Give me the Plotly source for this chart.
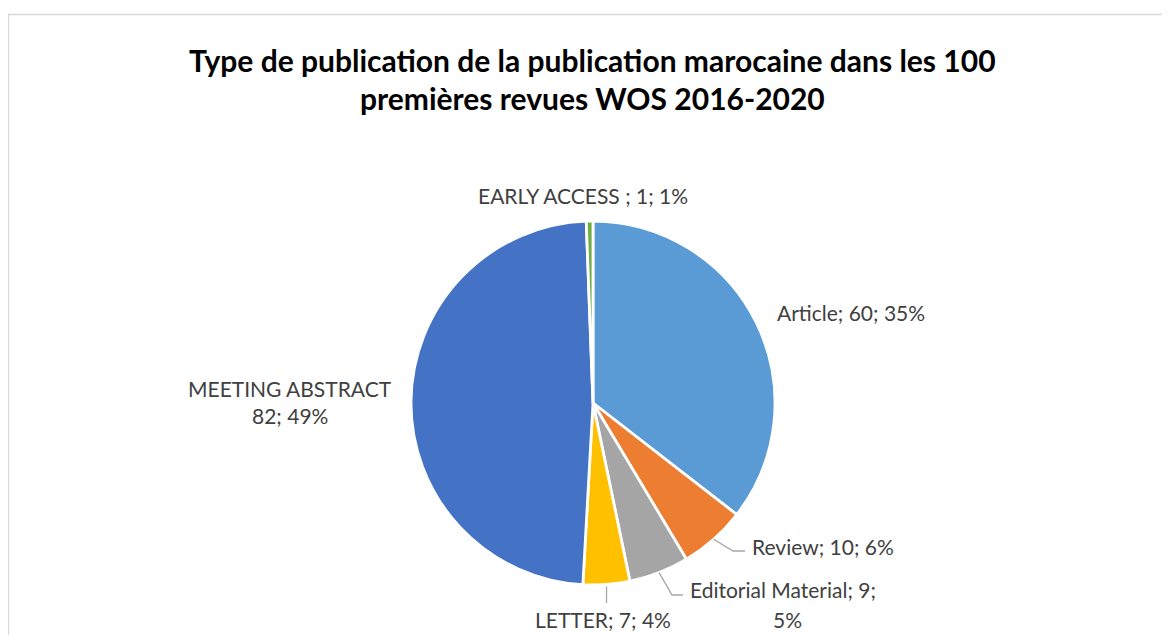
import math
import plotly.graph_objects as go

# Page body adds an 8px margin; the figure is sized to fill the rest of the window.
OFF = 8
W, H = 1170 - OFF, 635 - OFF

# ---- data ----
categories = ["Article", "Review", "Editorial Material", "LETTER", "MEETING ABSTRACT", "EARLY ACCESS "]
values = [60, 10, 9, 7, 82, 1]
pct_labels = ["35%", "6%", "5%", "4%", "49%", "1%"]
colors = ["#5B9BD5", "#ED7D31", "#A5A5A5", "#FFC000", "#4472C4", "#70AD47"]

title_lines = ["Type de publication de la publication marocaine dans les 100",
               "premières revues WOS 2016-2020"]

# ---- layout geometry (window pixels) ----
cx, cy, R = 593, 403, 182


def px(x):
    return (x - OFF) / W


def py(y):
    return 1 - (y - OFF) / H


fig = go.Figure()
fig.add_trace(go.Pie(
    labels=categories,
    values=values,
    sort=False,
    direction="clockwise",
    rotation=0,
    textinfo="none",
    hoverinfo="label+value+percent",
    marker=dict(colors=colors, line=dict(color="white", width=2.8)),
    domain=dict(x=[px(cx - R), px(cx + R)], y=[py(cy + R), py(cy - R)]),
    showlegend=False,
))

# mid-angles (clockwise from top) computed from the data
total = sum(values)
mids = []
acc = 0
for v in values:
    mids.append((acc + v / 2) / total * 360)
    acc += v


def edge_point(angle_deg, r=R):
    a = math.radians(angle_deg)
    return cx + r * math.sin(a), cy - r * math.cos(a)


label_font = dict(family="Lato, Calibri, sans-serif", size=21, color="#404040")
title_font = dict(family="Lato, Calibri, sans-serif", size=30, color="#000000")
annotations = []

# title
annotations.append(dict(text="<b>" + title_lines[0] + "</b>", x=px(593), y=py(60), xref="paper", yref="paper",
                        showarrow=False, xanchor="center", yanchor="middle", font=title_font))
annotations.append(dict(text="<b>" + title_lines[1] + "</b>", x=px(593), y=py(98), xref="paper", yref="paper",
                        showarrow=False, xanchor="center", yanchor="middle", font=title_font))

# data labels: text built from data arrays
txt = [f"{c}; {v}; {p}" for c, v, p in zip(categories, values, pct_labels)]

# Article
annotations.append(dict(text=txt[0], x=px(775), y=py(312), xanchor="left", yanchor="middle"))
# Review
annotations.append(dict(text=txt[1], x=px(750), y=py(546), xanchor="left", yanchor="middle"))
# Editorial Material (wrapped)
annotations.append(dict(text=f"{categories[2]}; {values[2]};", x=px(688), y=py(589), xanchor="left", yanchor="middle"))
annotations.append(dict(text=pct_labels[2], x=px(787), y=py(619), xanchor="center", yanchor="middle"))
# LETTER
annotations.append(dict(text=txt[3], x=px(603), y=py(619), xanchor="center", yanchor="middle"))
# MEETING ABSTRACT (two lines)
annotations.append(dict(text=categories[4], x=px(290), y=py(388), xanchor="center", yanchor="middle"))
annotations.append(dict(text=f"{values[4]}; {pct_labels[4]}", x=px(290), y=py(415), xanchor="center", yanchor="middle"))
# EARLY ACCESS
annotations.append(dict(text=txt[5], x=px(583), y=py(196), xanchor="center", yanchor="middle"))

for a in annotations[2:]:
    a.update(xref="paper", yref="paper", showarrow=False, font=label_font)

# leader lines
shapes = []
line_style = dict(color="#A6A6A6", width=1.3)
# Review
x0, y0 = edge_point(mids[1])
shapes.append(dict(type="path", xref="paper", yref="paper",
                   path=f"M {px(x0)},{py(y0)} L {px(733)},{py(551)} L {px(745)},{py(551)}", line=line_style))
# Editorial
x0, y0 = edge_point(mids[2])
shapes.append(dict(type="path", xref="paper", yref="paper",
                   path=f"M {px(x0)},{py(y0)} L {px(672)},{py(595)} L {px(683)},{py(595)}", line=line_style))
# Letter
x0, y0 = edge_point(mids[3])
shapes.append(dict(type="line", xref="paper", yref="paper",
                   x0=px(x0), y0=py(y0 + 2), x1=px(x0), y1=py(603), line=line_style))

# chart border
shapes.append(dict(type="rect", xref="paper", yref="paper", x0=px(8.5), x1=px(1165.5), y0=py(700), y1=py(14.5),
                   line=dict(color="#D9D9D9", width=1.3), fillcolor="rgba(0,0,0,0)", layer="below"))

fig.update_layout(
    width=W, height=H,
    margin=dict(l=0, r=0, t=0, b=0),
    paper_bgcolor="white", plot_bgcolor="white",
    annotations=annotations,
    shapes=shapes,
)

fig.write_html("out.html")
